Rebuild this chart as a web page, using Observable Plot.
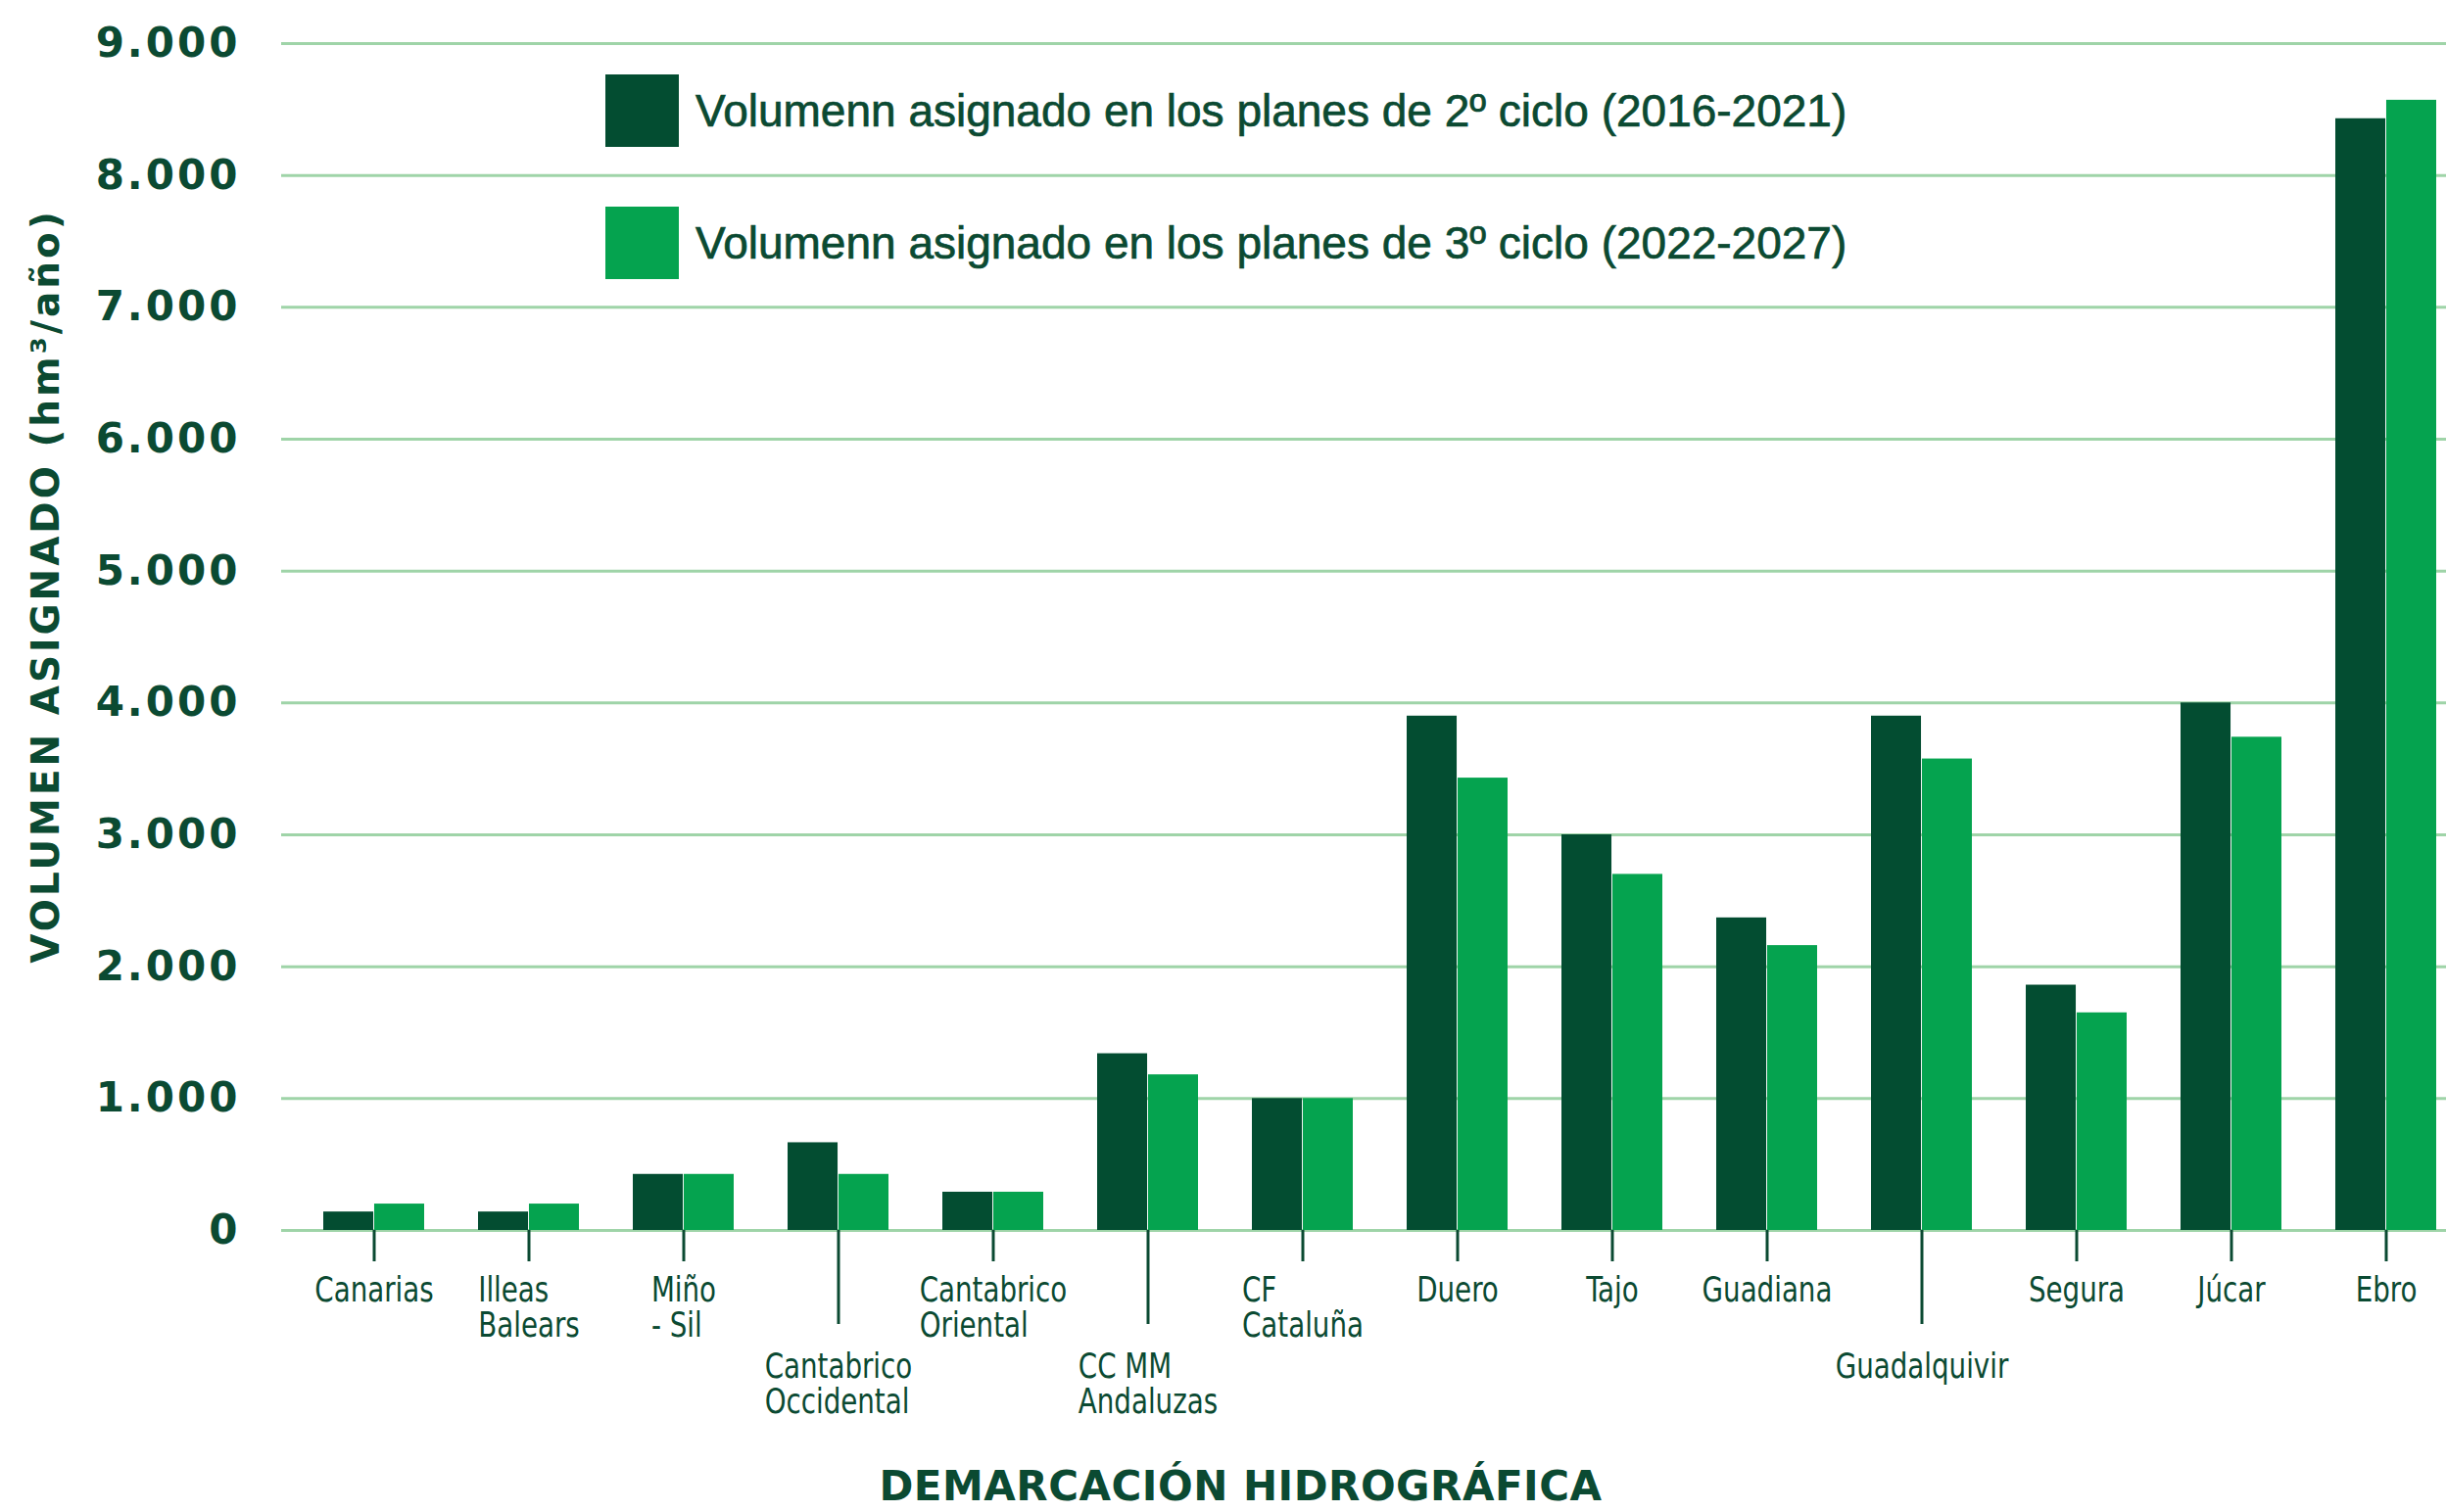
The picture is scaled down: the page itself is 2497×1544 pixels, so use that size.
<!DOCTYPE html>
<html>
<head>
<meta charset="utf-8">
<script src="https://cdn.jsdelivr.net/npm/d3@7"></script>
<script src="https://cdn.jsdelivr.net/npm/@observablehq/plot@0.6"></script>
<style>
  html, body { margin: 0; padding: 0; background: #ffffff; overflow: hidden; }
  #wrap { position: relative; width: 2497px; height: 1544px; background: #ffffff; }
  #chart svg { display: block; }
  .legend-row { position: absolute; display: flex; align-items: center; height: 74px; }
  .legend-swatch { width: 75px; height: 74px; flex: none; }
  .legend-text { margin-left: 17px; font-family: "Liberation Sans", Arial, sans-serif; font-size: 46px; color: #0b4a32; white-space: nowrap; -webkit-text-stroke: 0.7px #0b4a32; }
  g[aria-label="y-axis tick label"] text { letter-spacing: 3px; }
</style>
</head>
<body>
<div id="wrap">
  <div id="chart"></div>
</div>
<script>
// ---- data ----
const categories = ["Canarias", "Illeas Balears", "Miño - Sil", "Cantabrico Occidental", "Cantabrico Oriental", "CC MM Andaluzas", "CF Cataluña", "Duero", "Tajo", "Guadiana", "Guadalquivir", "Segura", "Júcar", "Ebro"];
const tickLabels = ["Canarias", "Illeas\nBalears", "Miño\n- Sil", "Cantabrico\nOccidental", "Cantabrico\nOriental", "CC MM\nAndaluzas", "CF\nCataluña", "Duero", "Tajo", "Guadiana", "Guadalquivir", "Segura", "Júcar", "Ebro"];
const labelRow = [0, 0, 0, 1, 0, 1, 0, 0, 0, 0, 1, 0, 0, 0];
const ciclo2 = [140, 140, 425, 665, 290, 1340, 1000, 3900, 3000, 2370, 3900, 1860, 4000, 8430];
const ciclo3 = [200, 200, 425, 425, 290, 1180, 1000, 3430, 2700, 2160, 3575, 1650, 3740, 8570];
const seriesNames = ["Volumenn asignado en los planes de 2º ciclo (2016-2021)", "Volumenn asignado en los planes de 3º ciclo (2022-2027)"];
const yTicks = [0, 1000, 2000, 3000, 4000, 5000, 6000, 7000, 8000, 9000];
const yTitle = "VOLUMEN ASIGNADO (hm³/año)";
const xTitle = "DEMARCACIÓN HIDROGRÁFICA";

// ---- styles ----
const DARK = "#034d31";
const LIGHT = "#05a34f";
const TEXT = "#0b4a32";
const GRID = "#9fd4a8";
const BOLD_FONT = "'DejaVu Sans', sans-serif";
const LABEL_FONT = "'Liberation Sans Narrow', 'DejaVu Sans Condensed', 'Liberation Sans', sans-serif";
const LABEL_SCALE_X = 0.88;

const fmt = d3.formatLocale({decimal: ",", thousands: ".", grouping: [3], currency: ["", " €"]}).format(",d");

const xRange = [287, 2531];
const PAD_IN = 0.346, PAD_OUT = 0.233;
const band = d3.scaleBand(categories, xRange).paddingInner(PAD_IN).paddingOuter(PAD_OUT).align(0.5);
const half = band.bandwidth() / 2;

const rows = categories.map((c, i) => ({category: c, c2: ciclo2[i], c3: ciclo3[i]}));
const row0 = categories.filter((c, i) => labelRow[i] === 0);
const row1 = categories.filter((c, i) => labelRow[i] === 1);
const labelOf = c => tickLabels[categories.indexOf(c)];

const xAxisCommon = {
  tickFormat: labelOf,
  fontSize: 35,
  fontFamily: LABEL_FONT,
  lineHeight: 1.03,
  color: TEXT,
  strokeWidth: 3,
  label: null
};

const plot = Plot.plot({
  width: 2497,
  height: 1544,
  marginLeft: 287,
  marginRight: 0,
  marginTop: 44,
  marginBottom: 288,
  style: {background: "transparent", color: TEXT, overflow: "visible"},
  x: {type: "band", domain: categories, range: xRange, paddingInner: PAD_IN, paddingOuter: PAD_OUT, align: 0.5, axis: null},
  y: {domain: [0, 9000], axis: null},
  marks: [
    Plot.gridY(yTicks, {stroke: GRID, strokeOpacity: 1, strokeWidth: 3}),
    Plot.barY(rows, {x: "category", y: "c2", fill: DARK, insetRight: half}),
    Plot.barY(rows, {x: "category", y: "c3", fill: LIGHT, insetLeft: half}),
    Plot.axisY(yTicks, {tickSize: 0, tickPadding: 42, tickFormat: fmt, fontSize: 42, fontWeight: "bold", fontFamily: BOLD_FONT, color: TEXT, label: null}),
    Plot.axisX(row0, {...xAxisCommon, tickSize: 32, tickPadding: 15}),
    Plot.axisX(row1, {...xAxisCommon, tickSize: 96, tickPadding: 29}),
    Plot.text([yTitle], {frameAnchor: "left", textAnchor: "middle", lineAnchor: "middle", rotate: -90, dx: -240, dy: -52, fontSize: 39, fontWeight: "bold", fontFamily: BOLD_FONT, fill: TEXT}),
    Plot.text([xTitle], {frameAnchor: "bottom", textAnchor: "middle", lineAnchor: "middle", dx: -126, dy: 262, fontSize: 42, fontWeight: "bold", fontFamily: BOLD_FONT, fill: TEXT})
  ]
});

document.getElementById("chart").append(plot);

// condense the tick labels; left-align the lines of multi-line labels while keeping the block centred on the tick
plot.querySelectorAll('g[aria-label="x-axis tick label"] text').forEach(t => {
  const tr = t.getAttribute("transform") || "";
  if (t.querySelectorAll("tspan").length > 1) {
    const w = t.getBBox().width;
    t.setAttribute("text-anchor", "start");
    t.setAttribute("transform", tr + ` scale(${LABEL_SCALE_X},1) translate(${-w / 2},0)`);
  } else {
    t.setAttribute("transform", tr + ` scale(${LABEL_SCALE_X},1)`);
  }
});
// letter spacing for the titles
plot.querySelectorAll("text").forEach(t => {
  if (t.textContent === yTitle) t.style.letterSpacing = "3px";
  if (t.textContent === xTitle) t.style.letterSpacing = "0.5px";
});

// legend (sits inside the plot area, top)
const wrap = document.getElementById("wrap");
[DARK, LIGHT].forEach((col, i) => {
  const row = document.createElement("div");
  row.className = "legend-row";
  row.style.left = "618px";
  row.style.top = (76 + i * 135) + "px";
  const sw = document.createElement("div");
  sw.className = "legend-swatch";
  sw.style.background = col;
  const tx = document.createElement("div");
  tx.className = "legend-text";
  tx.textContent = seriesNames[i];
  row.append(sw, tx);
  wrap.append(row);
});
</script>
</body>
</html>
